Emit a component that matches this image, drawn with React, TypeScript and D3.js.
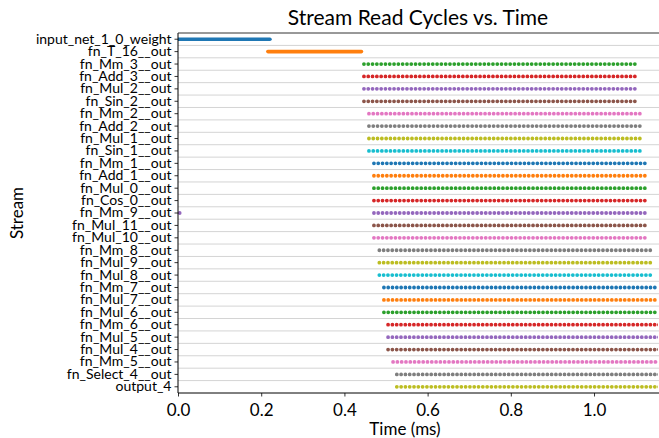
import * as d3 from 'd3';
import React, { useRef, useEffect } from 'react';

const streams = [
  'input_net_1_0_weight', 'fn_T_16__out', 'fn_Mm_3__out', 'fn_Add_3__out', 'fn_Mul_2__out',
  'fn_Sin_2__out', 'fn_Mm_2__out', 'fn_Add_2__out', 'fn_Mul_1__out', 'fn_Sin_1__out',
  'fn_Mm_1__out', 'fn_Add_1__out', 'fn_Mul_0__out', 'fn_Cos_0__out', 'fn_Mm_9__out',
  'fn_Mul_11__out', 'fn_Mul_10__out', 'fn_Mm_8__out', 'fn_Mul_9__out', 'fn_Mul_8__out',
  'fn_Mm_7__out', 'fn_Mul_7__out', 'fn_Mul_6__out', 'fn_Mm_6__out', 'fn_Mul_5__out',
  'fn_Mul_4__out', 'fn_Mm_5__out', 'fn_Select_4__out', 'output_4',
];
// first and last read time (ms) of each stream
const starts = [
  0.0, 0.216, 0.447, 0.447, 0.447, 0.447, 0.459, 0.459, 0.459, 0.459,
  0.471, 0.471, 0.471, 0.471, 0.471, 0.471, 0.471, 0.484, 0.484, 0.484,
  0.495, 0.495, 0.495, 0.505, 0.505, 0.505, 0.517, 0.526, 0.526,
];
const ends = [
  0.221, 0.441, 1.103, 1.103, 1.103, 1.103, 1.115, 1.115, 1.115, 1.118,
  1.131, 1.131, 1.131, 1.131, 1.131, 1.131, 1.131, 1.143, 1.143, 1.143,
  1.155, 1.155, 1.155, 1.166, 1.166, 1.166, 1.178, 1.187, 1.187,
];
// streams read continuously (no visible gaps between reads)
const continuous = ['input_net_1_0_weight', 'fn_T_16__out'];
// stray single reads
const strayStream = ['fn_Mm_9__out'];
const strayTime = [0.004];
const xTicks = [0, 0.2, 0.4, 0.6, 0.8, 1.0];

const W = 659, H = 438;
const margin = { top: 33, right: 1, bottom: 45, left: 178 };
const font = 'Lato';

function StreamChart() {
  const ref = useRef<SVGSVGElement>(null);

  useEffect(() => {
    draw();
  });

  const draw = () => {
    const svg = d3.select(ref.current).attr('width', W).attr('height', H);
    svg.selectAll('*').remove();

    const x = d3.scaleLinear().domain([0, 1.1538]).range([margin.left, W - margin.right]);
    const y = d3.scaleBand().domain(streams).range([margin.top, H - margin.bottom]);
    const color = d3.scaleOrdinal(d3.schemeCategory10);
    const yc = (s: string) => (y(s) as number) + y.bandwidth() / 2;

    svg.append('defs').append('clipPath').attr('id', 'plotclip')
      .append('rect')
      .attr('x', margin.left).attr('y', margin.top)
      .attr('width', W - margin.right - margin.left)
      .attr('height', H - margin.bottom - margin.top);

    // grid between rows
    const bounds = streams.slice(1).map((s) => y(s) as number);
    svg.append('g').selectAll('line').data(bounds).enter().append('line')
      .attr('x1', margin.left).attr('x2', W)
      .attr('y1', (d) => d).attr('y2', (d) => d)
      .attr('stroke', '#d4d4d4').attr('stroke-width', 1);

    const plot = svg.append('g').attr('clip-path', 'url(#plotclip)');

    plot.selectAll('line.seg').data(streams).enter().append('line')
      .attr('class', 'seg')
      .attr('x1', (d, i) => x(starts[i]))
      .attr('x2', (d, i) => x(ends[i]))
      .attr('y1', (d) => yc(d)).attr('y2', (d) => yc(d))
      .attr('stroke', (d, i) => color(String(i)))
      .attr('stroke-width', (d) => (continuous.includes(d) ? 3.6 : 3.8))
      .attr('stroke-linecap', 'round')
      .attr('stroke-dasharray', (d) => (continuous.includes(d) ? null : '0 4.3'));

    plot.selectAll('circle.stray').data(strayStream).enter().append('circle')
      .attr('class', 'stray')
      .attr('cx', (d, i) => x(strayTime[i]))
      .attr('cy', (d) => yc(d))
      .attr('r', 1.9)
      .attr('fill', (d) => color(String(streams.indexOf(d))));

    const yAxis = d3.axisLeft(y).tickSize(3.5).tickPadding(3);
    const gy = svg.append('g')
      .attr('transform', `translate(${margin.left},0)`)
      .call(yAxis);
    gy.select('.domain').remove();
    gy.selectAll('text').style('font-family', font).style('font-size', '14px').attr('fill', '#000');
    gy.selectAll('line').attr('stroke', '#000').attr('stroke-width', 0.8);

    const xAxis = d3.axisBottom(x).tickValues(xTicks).tickFormat(d3.format('.1f')).tickSize(3.5).tickPadding(7);
    const gx = svg.append('g')
      .attr('transform', `translate(0,${H - margin.bottom})`)
      .call(xAxis);
    gx.select('.domain').remove();
    gx.selectAll('text').style('font-family', font).style('font-size', '17px').attr('fill', '#000');
    gx.selectAll('line').attr('stroke', '#000').attr('stroke-width', 0.8);

    // spines
    svg.append('line').attr('x1', margin.left).attr('x2', margin.left)
      .attr('y1', margin.top).attr('y2', H - margin.bottom).attr('stroke', '#000').attr('stroke-width', 1);
    svg.append('line').attr('x1', margin.left).attr('x2', W)
      .attr('y1', H - margin.bottom).attr('y2', H - margin.bottom).attr('stroke', '#000').attr('stroke-width', 1);
    svg.append('line').attr('x1', margin.left).attr('x2', W)
      .attr('y1', margin.top).attr('y2', margin.top).attr('stroke', '#333').attr('stroke-width', 1);

    svg.append('text').attr('x', 418).attr('y', 25).attr('text-anchor', 'middle')
      .style('font-family', font).style('font-size', '21px').text('Stream Read Cycles vs. Time');
    svg.append('text').attr('x', 405).attr('y', 435).attr('text-anchor', 'middle')
      .style('font-family', font).style('font-size', '17px').text('Time (ms)');
    svg.append('text').attr('transform', `translate(23,${(margin.top + H - margin.bottom) / 2}) rotate(-90)`)
      .attr('text-anchor', 'middle')
      .style('font-family', font).style('font-size', '17px').text('Stream');
  };

  return (
    <div className="chart">
      <svg ref={ref} style={{ position: 'absolute', left: 0, top: 0 }}></svg>
    </div>
  );
}

export default function App() {
  return <StreamChart />;
}
